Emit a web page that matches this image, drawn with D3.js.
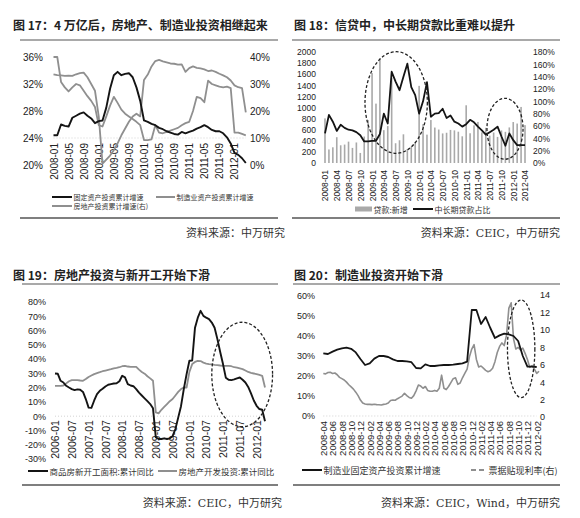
<!DOCTYPE html>
<html>
<head>
<meta charset="utf-8">
<script src="https://cdn.jsdelivr.net/npm/d3@7"></script>
<style>
  body { margin: 0; background: #fff; }
  svg  { display: block; }
  .cjk { font-family: "Noto Sans CJK SC", sans-serif; }
</style>
</head>
<body>
<svg id="chart" width="580" height="518"></svg>
<script>

////////////////////////////////////////////////////////////////////////////////
// Data.
////////////////////////////////////////////////////////////////////////////////

// Fig 17: monthly from 2008-01 to 2012-04.
const f17Start  = '2008-01';
const f17Fai    = [ 24.4,24.4,26.0,25.8,25.7,27.0,27.3,27.6,27.8,27.3,26.9,26.2,
                    26.5,26.6,28.5,31.3,33.3,33.8,33.3,33.5,33.6,33.0,31.5,29.5,
                    26.6,26.4,26.1,25.9,25.5,25.3,25.0,24.8,24.6,24.5,24.9,24.7,
                    24.9,25.1,25.4,25.6,25.9,25.6,25.2,25.0,25.0,24.7,24.1,23.2,
                    21.8,21.5,21.0,20.3 ];
const f17Mfg    = [ 36.0,36.0,32.3,31.5,30.9,31.5,32.0,31.8,31.0,30.2,29.5,28.6,
                    25.9,25.7,27.2,28.8,30.1,29.2,28.2,27.6,27.2,26.8,26.4,25.9,
                    23.7,23.7,23.8,25.9,24.8,24.7,24.9,25.1,25.3,25.5,25.9,26.2,
                    26.4,28.0,30.1,29.9,29.3,32.5,32.0,31.8,31.6,31.5,31.6,31.4,
                    24.8,24.8,24.6,24.4 ];
const f17Estate = [ 33.6,33.3,33.2,33.0,33.1,33.0,33.6,34.0,34.2,32.5,30.0,27.5,
                    18.0, 0.5, 2.0, 3.5, 5.5, 8.0,11.0,13.5,16.0,18.0,19.0,18.0,
                    31.5,33.5,36.5,38.5,38.9,38.4,38.0,37.6,37.5,37.2,37.3,34.5,
                    35.9,36.5,36.0,35.8,35.4,34.8,35.0,34.5,33.8,33.2,32.5,31.3,
                    29.5,28.8,28.5,19.5 ];
const f17Ticks  = [ '2008-01','2008-05','2008-09','2009-01','2009-05','2009-09','2010-01',
                    '2010-05','2010-09','2011-01','2011-05','2011-09','2012-01' ];
const f17LeftTicks  = [ 20, 24, 28, 32, 36 ];
const f17RightTicks = [ 0, 10, 20, 30, 40 ];

// Fig 18: monthly from 2008-01 to 2012-04.
const f18Start = '2008-01';
const f18Loans = [  804, 244, 283, 465, 319, 332, 385, 272, 370, 181, 477, 772,
                   1620,1070,1890, 592, 665,1530, 356, 410, 517, 253, 295, 380,
                   1390, 700, 511, 774, 639, 603, 533, 545, 596, 588, 564, 481,
                   1040, 536, 679, 740, 552, 634, 493, 549, 470, 587, 562, 641,
                    738, 711,1010, 682 ];
const f18Share = [  48, 78, 67, 52, 62, 57, 54, 53, 50, 45, 35, 35,
                    36, 36, 47, 80, 64,148,132,118,140,161,123,110,
                    80,100,131, 75, 80, 81, 88, 73, 77, 67, 64, 59,
                    63, 70, 66, 59, 53, 46, 50, 54, 59, 43, 28, 48,
                    37, 29, 29, 29 ];
const f18Ticks = [ '2008-01','2008-04','2008-07','2008-10','2009-01','2009-04','2009-07',
                   '2009-10','2010-01','2010-04','2010-07','2010-10','2011-01','2011-04',
                   '2011-07','2011-10','2012-01','2012-04' ];
const f18LeftTicks  = d3.range( 0, 2001, 200 );
const f18RightTicks = d3.range( 0, 181, 20 );

// Fig 19: monthly from 2006-01 to 2012-04.
const f19Start  = '2006-01';
const f19Starts = [ 29.9,29.7,24.8,23.6,21.3,20.1,19.0,18.3,18.8,18.5,17.0,12.0,
                     6.0, 5.8,11.0,15.5,17.8,19.2,20.8,22.0,22.5,22.9,23.0,24.5,
                    28.3,27.2,22.5,21.5,21.0,19.0,16.5,14.5,12.5,10.5, 8.5, 5.5,
                   -14.8,-16.0,-16.0,-15.5,-16.0,-15.5,-14.0,-9.0,-1.0, 7.0,19.0,29.5,
                    38.8,39.0,62.0,69.0,73.8,70.3,69.0,68.0,65.6,62.0,54.0,45.0,
                    36.5,27.0,25.5,25.3,25.8,26.5,27.1,25.5,23.6,20.5,16.0,11.0,
                     7.3, 5.0, 4.5,-3.5 ];
const f19Invest = [ 21.3,21.3,21.3,21.5,23.0,24.5,25.3,25.3,25.3,25.0,24.8,26.0,
                    27.5,28.5,29.5,30.2,30.8,31.5,32.0,32.5,32.9,33.5,33.8,34.3,
                    35.0,35.3,34.8,34.6,34.6,34.6,32.6,31.0,29.8,28.0,26.5,24.8,
                     2.7, 2.0, 4.5, 6.5, 8.5,10.5,12.0,14.5,17.0,19.0,20.1,20.1,
                    31.0,36.5,38.0,38.8,38.6,37.5,36.9,36.5,36.3,36.0,35.8,35.5,
                    35.3,35.3,35.2,35.0,34.3,34.0,33.5,33.0,32.0,31.0,30.3,29.9,
                    29.5,28.9,28.3,20.1 ];
const f19Ticks  = [ '2006-01','2006-07','2007-01','2007-07','2008-01','2008-07','2009-01',
                    '2009-07','2010-01','2010-07','2011-01','2011-07','2012-01' ];
const f19LeftTicks = d3.range( -30, 81, 10 );

// Fig 20: investment monthly from 2008-04, bill rate twice a month.
const f20Start    = '2008-04';
const f20MfgFai   = [ 31.3,31.0,32.2,33.2,33.8,34.2,33.6,31.8,28.5,25.5,26.3,28.7,
                      30.0,30.0,29.5,28.3,27.5,27.5,27.3,26.9,24.0,23.8,25.8,25.0,
                      25.0,25.3,25.5,25.5,25.7,26.0,26.3,27.2,53.0,53.0,46.0,49.5,
                      44.0,39.0,40.3,41.2,40.8,40.0,37.5,30.0,24.7,24.7,24.5 ];
const f20BillRate = [ 5.0,4.95,5.1,5.13,5.0,5.05,4.85,4.55,4.4,4.25,
                      4.0,3.7,3.45,3.2,2.85,2.45,1.95,1.6,1.5,1.45,
                      1.45,1.42,1.46,1.42,1.4,1.38,1.45,1.5,1.6,1.9,
                      1.95,1.92,2.1,2.25,2.4,2.72,2.45,2.25,2.15,2.45,
                      3.0,3.67,3.55,3.3,3.5,3.05,2.95,2.95,3.05,2.95,
                      3.3,4.8,3.3,3.15,3.5,3.95,4.4,4.5,3.75,3.9,
                      4.5,5.0,5.5,6.9,7.8,8.3,6.6,5.75,5.85,5.6,
                      5.35,5.2,5.3,5.6,6.35,7.4,8.1,8.5,8.2,9.4,
                      12.5,13.1,9.0,7.8,8.0,7.7,7.9,7.3,6.6,5.7,
                      5.9,5.5,5.0,5.25 ];
const f20Ticks    = [ '2008-04','2008-06','2008-08','2008-10','2008-12','2009-02','2009-04',
                      '2009-06','2009-08','2009-10','2009-12','2010-02','2010-04','2010-06',
                      '2010-08','2010-10','2010-12','2011-02','2011-04','2011-06','2011-08',
                      '2011-10','2011-12','2012-02' ];
const f20LeftTicks  = d3.range( 0, 61, 10 );
const f20RightTicks = d3.range( 0, 15, 2 );

////////////////////////////////////////////////////////////////////////////////
// Helpers.
////////////////////////////////////////////////////////////////////////////////

const svg   = d3.select( '#chart' );
const NUM   = '"Liberation Sans", Arial, sans-serif';
const CJK   = '"Noto Sans CJK SC", sans-serif';
const BLACK = '#141414';
const GRAY  = '#8f8f8f';

// Months between a "YYYY-MM" label and the series start.
const monthIndex = ( label, start ) => {
  const [ y, m ]   = label.split( '-' ).map( Number );
  const [ sy, sm ] = start.split( '-' ).map( Number );
  return ( y - sy ) * 12 + ( m - sm );
};

// Title, rules and source line of a panel.
function frame ( p ) {
  svg.append( 'text' )
    .attr( 'x', p.left ).attr( 'y', p.titleY )
    .attr( 'dominant-baseline', 'central' )
    .attr( 'font-family', CJK ).attr( 'font-size', 12 ).attr( 'font-weight', 'bold' )
    .attr( 'fill', '#222' )
    .text( p.title );
  [ [ p.ruleTop, 1.1 ], [ p.ruleBottom, 1.5 ] ].forEach( ( [ y, w ] ) => {
    svg.append( 'line' )
      .attr( 'x1', p.ruleX0 ).attr( 'x2', p.ruleX1 ).attr( 'y1', y ).attr( 'y2', y )
      .attr( 'stroke', '#555' ).attr( 'stroke-width', w );
  } );
  svg.append( 'text' )
    .attr( 'x', p.sourceX ).attr( 'y', p.sourceY )
    .attr( 'text-anchor', 'end' ).attr( 'dominant-baseline', 'central' )
    .attr( 'font-family', '"DejaVu Serif", "Noto Sans CJK SC", serif' ).attr( 'font-size', 11 )
    .attr( 'fill', '#333' )
    .text( p.source );
}

// Vertical value axis without line or ticks.
function valueAxis ( scale, xPos, side, ticks, fmt, size ) {
  const axis = ( side === 'left' ? d3.axisLeft( scale ) : d3.axisRight( scale ) )
    .tickValues( ticks ).tickFormat( fmt ).tickSize( 0 ).tickPadding( 0 );
  const g = svg.append( 'g' )
    .attr( 'transform', `translate( ${xPos}, 0 )` )
    .call( axis )
    .attr( 'font-family', NUM ).attr( 'font-size', size );
  g.select( '.domain' ).remove( );
  g.selectAll( 'text' ).attr( 'fill', '#222' );
}

// Month axis with labels turned upright.
function monthAxis ( scale, yPos, labels, start, size, gap ) {
  const axis = d3.axisBottom( scale )
    .tickValues( labels.map( l => monthIndex( l, start ) ) )
    .tickFormat( ( d, i ) => labels[i] )
    .tickSize( 0 );
  const g = svg.append( 'g' )
    .attr( 'transform', `translate( 0, ${yPos} )` )
    .call( axis )
    .attr( 'font-family', NUM ).attr( 'font-size', size );
  g.select( '.domain' ).remove( );
  g.selectAll( 'text' )
    .attr( 'transform', 'rotate(-90)' )
    .attr( 'x', -gap ).attr( 'y', 0 ).attr( 'dy', '0.35em' )
    .attr( 'text-anchor', 'end' ).attr( 'fill', '#222' );
}

// Faint dotted base line across the plot.
function baseLine ( x, y, value ) {
  const [ x0, x1 ] = x.range( );
  svg.append( 'line' )
    .attr( 'x1', x0 ).attr( 'x2', x1 ).attr( 'y1', y( value ) ).attr( 'y2', y( value ) )
    .attr( 'stroke', '#c8c8c8' ).attr( 'stroke-width', 0.8 ).attr( 'stroke-dasharray', '1,2' );
}

function series ( values, x, y, step, color, width ) {
  const line = d3.line( ).x( ( d, i ) => x( i * step ) ).y( d => y( d ) );
  svg.append( 'path' ).datum( values )
    .attr( 'd', line ).attr( 'fill', 'none' )
    .attr( 'stroke', color ).attr( 'stroke-width', width )
    .attr( 'stroke-linejoin', 'round' );
}

// Dashed ellipse around a range given in data units.
function ring ( x, y, [ m0, m1 ], [ v0, v1 ] ) {
  svg.append( 'ellipse' )
    .attr( 'cx', ( x( m0 ) + x( m1 ) ) / 2 ).attr( 'cy', ( y( v0 ) + y( v1 ) ) / 2 )
    .attr( 'rx', Math.abs( x( m1 ) - x( m0 ) ) / 2 ).attr( 'ry', Math.abs( y( v1 ) - y( v0 ) ) / 2 )
    .attr( 'fill', 'none' ).attr( 'stroke', '#222' )
    .attr( 'stroke-width', 1.3 ).attr( 'stroke-dasharray', '3,2' );
}

// Legend entry: a swatch then its label.
function legendItem ( x, y, len, kind, color, label, size ) {
  if ( kind === 'bar' ) {
    svg.append( 'rect' ).attr( 'x', x ).attr( 'y', y - 2.5 ).attr( 'width', len ).attr( 'height', 5 )
      .attr( 'fill', color );
  } else {
    svg.append( 'line' ).attr( 'x1', x ).attr( 'x2', x + len ).attr( 'y1', y ).attr( 'y2', y )
      .attr( 'stroke', color ).attr( 'stroke-width', 2 )
      .attr( 'stroke-dasharray', kind === 'dash' ? '5,3' : null );
  }
  svg.append( 'text' )
    .attr( 'x', x + len + 1.5 ).attr( 'y', y )
    .attr( 'dominant-baseline', 'central' )
    .attr( 'font-family', CJK ).attr( 'font-size', size ).attr( 'fill', '#333' )
    .text( label );
}

const pct = d => d + '%';

////////////////////////////////////////////////////////////////////////////////
// Fig 17.
////////////////////////////////////////////////////////////////////////////////
{
  frame( { left: 13, titleY: 24, title: '图 17：4 万亿后，房地产、制造业投资相继起来',
           ruleX0: 20, ruleX1: 278, ruleTop: 40, ruleBottom: 218,
           sourceX: 285, sourceY: 233, source: '资料来源：中万研究' } );

  const x  = d3.scaleLinear( ).domain( [ 0, f17Fai.length - 1 ] ).range( [ 53.5, 245.8 ] );
  const yL = d3.scaleLinear( ).domain( [ 20, 36 ] ).range( [ 165, 57 ] );
  const yR = d3.scaleLinear( ).domain( [ 0, 40 ] ).range( [ 165, 57 ] );

  baseLine( x, yL, 24 );
  valueAxis( yL, 43, 'left',  f17LeftTicks,  pct, 10 );
  valueAxis( yR, 250, 'right', f17RightTicks, pct, 10 );
  monthAxis( x, yL( 24 ), f17Ticks, f17Start, 10, 5 );

  series( f17Estate, x, yR, 1, GRAY,  1.8 );
  series( f17Mfg,    x, yL, 1, GRAY,  1.8 );
  series( f17Fai,    x, yL, 1, BLACK, 1.9 );

  legendItem( 52, 197, 20, 'line', BLACK, '固定资产投资累计增速', 7 );
  legendItem( 156, 197, 19, 'line', GRAY, '制造业资产投资累计增速', 7 );
  legendItem( 52, 206, 20, 'line', GRAY, '房地产投资累计增速(右)', 7 );
}

////////////////////////////////////////////////////////////////////////////////
// Fig 18.
////////////////////////////////////////////////////////////////////////////////
{
  frame( { left: 294, titleY: 24, title: '图 18：信贷中，中长期贷款比重难以提升',
           ruleX0: 292, ruleX1: 560, ruleTop: 40, ruleBottom: 218,
           sourceX: 560, sourceY: 233, source: '资料来源：CEIC，中万研究' } );

  const x  = d3.scaleLinear( ).domain( [ 0, f18Loans.length - 1 ] ).range( [ 325, 525 ] );
  const yL = d3.scaleLinear( ).domain( [ 0, 2000 ] ).range( [ 163, 52 ] );
  const yR = d3.scaleLinear( ).domain( [ 0, 180 ] ).range( [ 163, 52 ] );

  valueAxis( yL, 316, 'left',  f18LeftTicks,  d => d, 8.5 );
  valueAxis( yR, 533, 'right', f18RightTicks, pct, 8.5 );
  monthAxis( x, yL( 0 ), f18Ticks, f18Start, 8.5, 7 );

  svg.append( 'g' ).selectAll( 'rect' )
    .data( f18Loans ).enter( ).append( 'rect' )
      .attr( 'x', ( d, i ) => x( i ) - 0.8 )
      .attr( 'y', d => yL( d ) )
      .attr( 'width', 1.6 )
      .attr( 'height', d => yL( 0 ) - yL( d ) )
      .attr( 'fill', '#a9a9a9' );

  series( f18Share, x, yR, 1, BLACK, 1.8 );

  ring( x, yL, [ 10.2, 26.1 ], [ 175, 2005 ] );
  ring( x, yL, [ 41.3, 50.5 ], [ 67, 1166 ] );

  legendItem( 355, 209, 17, 'bar',  '#a9a9a9', '贷款:新增', 8 );
  legendItem( 413, 209, 20, 'line', BLACK, '中长期贷款占比', 8 );
}

////////////////////////////////////////////////////////////////////////////////
// Fig 19.
////////////////////////////////////////////////////////////////////////////////
{
  frame( { left: 13, titleY: 274, title: '图 19：房地产投资与新开工开始下滑',
           ruleX0: 22, ruleX1: 278, ruleTop: 284, ruleBottom: 485,
           sourceX: 282, sourceY: 503, source: '资料来源：CEIC，中万研究' } );

  const x = d3.scaleLinear( ).domain( [ 0, f19Starts.length - 1 ] ).range( [ 55, 265 ] );
  const y = d3.scaleLinear( ).domain( [ -30, 80 ] ).range( [ 459, 302 ] );

  baseLine( x, y, 0 );
  valueAxis( y, 46, 'left', f19LeftTicks, pct, 9 );
  monthAxis( x, y( 0 ), f19Ticks, f19Start, 10.5, 4 );

  series( f19Invest, x, y, 1, GRAY,  1.8 );
  series( f19Starts, x, y, 1, BLACK, 1.9 );

  ring( x, y, [ 56, 77.7 ], [ -7.4, 65.8 ] );

  legendItem( 28, 471, 20, 'line', BLACK, '商品房新开工面积:累计同比', 8.5 );
  legendItem( 158, 471, 19, 'line', GRAY, '房地产开发投资:累计同比', 8.5 );
}

////////////////////////////////////////////////////////////////////////////////
// Fig 20.
////////////////////////////////////////////////////////////////////////////////
{
  frame( { left: 294, titleY: 274, title: '图 20：制造业投资开始下滑',
           ruleX0: 293, ruleX1: 560, ruleTop: 284, ruleBottom: 485,
           sourceX: 560, sourceY: 503, source: '资料来源：CEIC，Wind，中万研究' } );

  const x  = d3.scaleLinear( ).domain( [ 0, f20MfgFai.length - 1 ] ).range( [ 323.3, 536.7 ] );
  const yL = d3.scaleLinear( ).domain( [ 0, 60 ] ).range( [ 416, 296 ] );
  const yR = d3.scaleLinear( ).domain( [ 0, 14 ] ).range( [ 417, 295 ] );

  baseLine( x, yL, 0 );
  valueAxis( yL, 315, 'left',  f20LeftTicks,  pct, 9 );
  valueAxis( yR, 540, 'right', f20RightTicks, d => d, 9 );
  monthAxis( x, yL( 0 ), f20Ticks, f20Start, 9.5, 5 );

  series( f20BillRate, x, yR, 0.5, GRAY, 1.6 );
  series( f20MfgFai,   x, yL, 1,   BLACK, 1.8 );

  ring( x, yL, [ 39.7, 45.6 ], [ 9.2, 58 ] );

  legendItem( 302, 470, 20, 'line', BLACK, '制造业固定资产投资累计增速', 9 );
  legendItem( 471, 470, 16, 'dash', GRAY, '票据贴现利率(右)', 9 );
}

</script>
</body>
</html>
